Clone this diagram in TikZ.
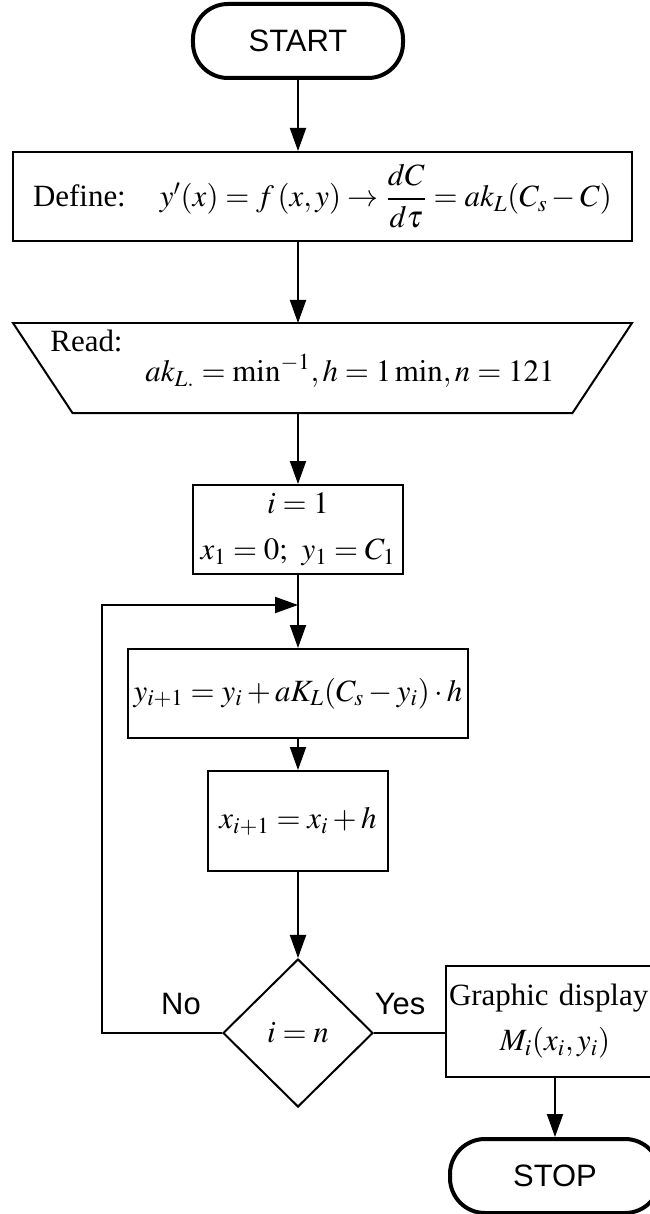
\documentclass[tikz,border=0pt]{standalone}
\usepackage{amsmath}
\usepackage{mathptmx}
\usepackage{fontspec}
\setmainfont{Liberation Serif}
\setsansfont{Liberation Sans}
\usetikzlibrary{shapes.geometric, arrows.meta, positioning}

\begin{document}
\begin{tikzpicture}[
    node distance=1.48cm,
    every node/.style={font=\fontsize{17.6}{21}\selectfont},
    line width=0.04cm,
    >={Triangle[length=0.46cm,width=0.32cm]},
    term/.style={draw, line width=0.08cm, rectangle, rounded corners=0.7cm, minimum width=4.2cm, minimum height=1.48cm, font=\sffamily\fontsize{17.6}{21}\selectfont},
    box/.style={draw, rectangle, minimum height=1.78cm, align=center, inner sep=0pt},
    decide/.style={draw, diamond, aspect=1, minimum width=3cm, minimum height=2.96cm, inner sep=0pt},
    lbl/.style={font=\sffamily\fontsize{17.6}{21}\selectfont}
]
\useasboundingbox (-5.96,0.82) rectangle (7.04,-23.46);
\clip (-5.96,0.82) rectangle (7.04,-23.46);

% Start
\node[term] (start) {START};

% Model equation
\node[box, below=1.42cm of start, xshift=0.49cm, minimum width=12.38cm] (define) {Define:\hspace{0.68cm}$y'(x)=f\,(x,y)\rightarrow\dfrac{dC}{d\tau}=ak_L(C_s-C)$};

% Input data (manual input shape, wide side on top)
\node[rectangle, minimum width=12.34cm, minimum height=1.76cm, inner sep=0pt, below=1.62cm of define] (read) {};
\draw (read.north west) -- (read.north east) -- ([xshift=-1.19cm]read.south east) -- ([xshift=1.19cm]read.south west) -- cycle;
\node[align=left, xshift=-0.4cm, yshift=0.18cm] (readtxt) at (read) {Read:\\[-4pt]\hspace*{1.9cm}$ak_{L.}=\mathrm{min}^{-1}, h=1\,\mathrm{min}, n=121$};

% Initial values
\node[box, below=1.42cm of read, xshift=-0.49cm, text width=3.9cm, inner xsep=0.14cm, align=left] (init) {\makebox[\linewidth]{$i=1$}\\[5pt]$x_1=0;\ y_1=C_1$};
\coordinate[below=0.6cm of init] (join);

% Euler step
\node[box, below=1.46cm of init, minimum width=6.8cm] (update) {$y_{i+1}=y_i+aK_L(C_s-y_i)\cdot h$};
\node[box, below=0.62cm of update, minimum width=3.6cm, minimum height=2cm] (next) {$x_{i+1}=x_i+h$};

% Test
\node[decide, below=1.72cm of next] (check) {$i=n$};
\coordinate[left=2.4cm of check.west] (back);

% Output
\node[box, right=1.42cm of check, yshift=0.23cm, text width=4.24cm, inner xsep=0.06cm, minimum height=2.22cm, align=left] (show) {Graphic display\\[4.5pt]\makebox[\linewidth]{$M_i(x_i,y_i)$}};
\node[term, below=1.18cm of show] (stop) {STOP};

% Branch labels
\node[lbl] (no) at ([xshift=-0.82cm, yshift=0.58cm]check.west) {No};
\node[lbl] (yes) at ([xshift=0.52cm, yshift=0.58cm]check.east) {Yes};

% Arrows
\draw[->] (start) -- (start |- define.north);
\draw[->] (define.south -| start) -- (read.north -| start);
\draw[->] (read.south -| init) -- (init);
\draw (init) -- (join);
\draw[->] (join) -- (update);
\draw[->] (update) -- (next);
\draw[->] (next) -- (check);
\draw[->] (check.west) -- (back) |- (join);
\draw (check.east) -- (check.east -| show.west);
\draw[->] (show) -- (stop);

\end{tikzpicture}
\end{document}
